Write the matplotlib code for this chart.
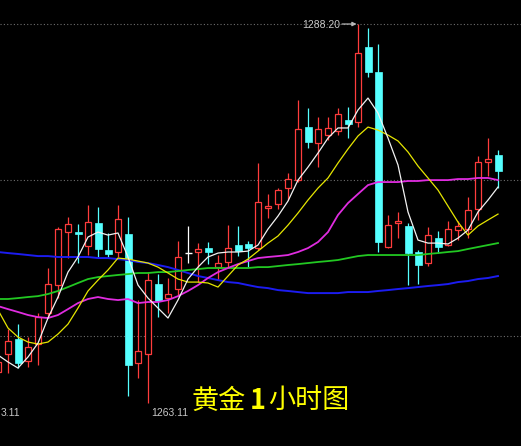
import numpy as np
import matplotlib
matplotlib.use("Agg")
import matplotlib.pyplot as plt
from matplotlib.patches import Rectangle

plt.rcParams['font.family'] = ['Noto Sans CJK SC', 'DejaVu Sans']

# Gold, 1-hour bars (bar -1 is the partially visible one at the left edge)
bars = np.arange(-1, 50)

opens = [1265.16, 1266.35, 1267.35, 1265.89, 1267.02, 1269.07, 1270.92, 1274.43, 1274.43, 1273.50,
         1275.03, 1273.24, 1273.11, 1274.30, 1265.76, 1266.35, 1270.99, 1270.06, 1270.66, 1273.04,
         1273.11, 1273.37, 1272.11, 1272.45, 1273.57, 1273.64, 1273.37, 1276.02, 1276.29, 1277.34,
         1277.87, 1281.38, 1280.32, 1280.85, 1281.12, 1281.85, 1281.71, 1286.68, 1285.02, 1273.44,
         1275.03, 1274.83, 1273.11, 1272.38, 1274.03, 1273.57, 1274.56, 1274.63, 1275.95, 1279.07,
         1279.53]
highs = [1266.22, 1268.01, 1268.34, 1267.48, 1269.07, 1272.05, 1274.76, 1275.42, 1274.96, 1276.22,
         1276.09, 1274.37, 1276.22, 1275.42, 1269.93, 1271.78, 1271.65, 1271.39, 1273.84, 1274.83,
         1273.70, 1273.77, 1272.91, 1274.89, 1274.83, 1273.84, 1279.00, 1276.95, 1277.34, 1278.34,
         1283.17, 1282.64, 1282.04, 1282.04, 1282.64, 1282.71, 1288.20, 1287.94, 1286.88, 1275.56,
         1275.76, 1275.03, 1273.24, 1274.76, 1274.50, 1275.16, 1275.16, 1276.75, 1279.46, 1280.65,
         1279.86]
lows = [1264.77, 1265.10, 1265.43, 1265.49, 1265.63, 1268.74, 1270.06, 1272.71, 1272.38, 1272.91,
        1272.78, 1272.78, 1272.78, 1263.57, 1264.77, 1263.11, 1268.80, 1269.07, 1270.19, 1272.38,
        1271.12, 1272.31, 1271.25, 1272.11, 1272.84, 1272.11, 1273.24, 1275.36, 1275.95, 1276.55,
        1277.74, 1279.99, 1278.73, 1280.52, 1280.85, 1280.65, 1281.38, 1284.69, 1273.11, 1273.37,
        1274.03, 1270.92, 1270.99, 1272.18, 1273.04, 1273.50, 1273.90, 1274.03, 1275.23, 1278.14,
        1277.34]
closes = [1265.83, 1267.22, 1265.76, 1266.82, 1268.80, 1270.99, 1274.63, 1274.96, 1274.30, 1275.09,
          1273.31, 1272.98, 1275.29, 1265.63, 1266.55, 1271.25, 1269.86, 1270.33, 1272.78, 1273.04,
          1273.31, 1273.11, 1272.38, 1273.37, 1273.17, 1273.37, 1276.42, 1276.15, 1277.21, 1277.94,
          1281.25, 1280.39, 1281.25, 1281.32, 1282.24, 1281.58, 1286.28, 1285.02, 1273.77, 1274.89,
          1275.16, 1273.04, 1272.25, 1274.23, 1273.44, 1274.63, 1274.83, 1275.89, 1279.07, 1279.26,
          1278.47]

# Moving averages
ma5 = [1266.29, 1265.83, 1265.43, 1266.16, 1267.08, 1268.74, 1270.13, 1271.78, 1272.78, 1274.10,
       1274.43, 1274.23, 1274.37, 1272.78, 1270.92, 1270.06, 1269.40, 1268.74, 1269.93, 1271.32,
       1272.11, 1272.78, 1273.04, 1273.11, 1273.11, 1273.17, 1273.57, 1274.63, 1275.49, 1276.48,
       1277.87, 1278.73, 1279.66, 1280.65, 1281.32, 1281.32, 1282.51, 1283.30, 1282.31, 1280.65,
       1278.87, 1275.76, 1273.90, 1273.70, 1273.70, 1273.64, 1274.03, 1274.56, 1275.76, 1276.55,
       1277.41]
ma10 = [1269.27, 1268.08, 1267.48, 1267.15, 1267.02, 1267.15, 1267.68, 1268.34, 1269.40, 1270.53,
        1271.25, 1271.92, 1272.71, 1272.64, 1272.51, 1272.38, 1272.11, 1271.72, 1271.32, 1271.12,
        1271.12, 1271.06, 1270.79, 1271.52, 1272.25, 1272.64, 1273.17, 1273.70, 1274.17, 1274.89,
        1275.69, 1276.55, 1277.34, 1278.01, 1279.00, 1279.93, 1280.79, 1281.38, 1281.18, 1280.85,
        1280.46, 1279.73, 1278.80, 1278.01, 1277.21, 1276.15, 1275.09, 1274.23, 1274.83, 1275.23,
        1275.62]
ma20 = [1269.53, 1269.33, 1269.14, 1268.94, 1268.80, 1268.74, 1268.94, 1269.33, 1269.73, 1270.00,
        1270.13, 1270.00, 1269.93, 1270.00, 1269.73, 1269.80, 1269.80, 1269.93, 1270.19, 1270.53,
        1270.92, 1271.39, 1271.78, 1272.05, 1272.31, 1272.51, 1272.71, 1272.78, 1272.84, 1272.91,
        1273.11, 1273.37, 1273.77, 1274.43, 1275.56, 1276.35, 1276.95, 1277.54, 1277.74, 1277.74,
        1277.74, 1277.81, 1277.81, 1277.87, 1277.87, 1277.87, 1277.94, 1277.94, 1278.01, 1278.01,
        1277.87]
ma40 = [1270.00, 1270.00, 1270.06, 1270.13, 1270.19, 1270.33, 1270.53, 1270.79, 1271.06, 1271.32,
        1271.45, 1271.52, 1271.59, 1271.65, 1271.72, 1271.72, 1271.78, 1271.78, 1271.85, 1271.92,
        1271.98, 1272.05, 1272.05, 1272.05, 1272.05, 1272.05, 1272.11, 1272.11, 1272.18, 1272.25,
        1272.31, 1272.38, 1272.45, 1272.51, 1272.58, 1272.71, 1272.84, 1272.91, 1272.91, 1272.91,
        1272.91, 1272.91, 1272.91, 1272.98, 1273.04, 1273.11, 1273.17, 1273.31, 1273.44, 1273.57,
        1273.70]
ma60 = [1273.11, 1273.04, 1272.98, 1272.91, 1272.84, 1272.84, 1272.78, 1272.78, 1272.78, 1272.78,
        1272.71, 1272.71, 1272.64, 1272.58, 1272.45, 1272.38, 1272.25, 1272.11, 1271.92, 1271.72,
        1271.52, 1271.39, 1271.25, 1271.12, 1271.06, 1270.92, 1270.79, 1270.72, 1270.59, 1270.53,
        1270.46, 1270.39, 1270.39, 1270.39, 1270.39, 1270.46, 1270.46, 1270.46, 1270.53, 1270.59,
        1270.66, 1270.72, 1270.79, 1270.86, 1270.92, 1270.99, 1271.12, 1271.19, 1271.32, 1271.39,
        1271.52]

grid_levels = [1288.20, 1277.87, 1267.53]
high_label = "1288.20"
low_label = "1263.11"
edge_label = "3.11"
title_parts = ["黄金", "1", "小时图"]

UP = "#ff3c3c"
DOWN = "#55ffff"
DOJI = "#ffffff"

W, H = 521, 446
fig = plt.figure(figsize=(W / 100, H / 100), dpi=100, facecolor="black")
ax = fig.add_axes([0, 0, 1, 1])
ax.set_facecolor("black")
ax.set_xlim(-0.8, 51.3)
ax.set_ylim(1260.27, 1289.79)
ax.axis("off")

for lvl in grid_levels:
    ax.axhline(lvl, color="#6e6e6e", lw=0.8, ls=(0, (1, 2)), zorder=1)

for x, o, h, l, c in zip(bars, opens, highs, lows, closes):
    top, bot = max(o, c), min(o, c)
    if c > o:
        ax.vlines(x, top, h, color=UP, lw=0.9, zorder=2)
        ax.vlines(x, l, bot, color=UP, lw=0.9, zorder=2)
        ax.add_patch(Rectangle((x - 0.3, bot), 0.6, top - bot, facecolor="black",
                               edgecolor=UP, lw=0.9, zorder=3))
    elif c < o:
        ax.vlines(x, l, h, color=DOWN, lw=0.9, zorder=2)
        ax.add_patch(Rectangle((x - 0.35, bot), 0.7, top - bot, facecolor=DOWN,
                               edgecolor=DOWN, lw=0.5, zorder=3))
    else:
        ax.vlines(x, l, h, color=DOJI, lw=0.9, zorder=2)
        ax.hlines(o, x - 0.35, x + 0.35, color=DOJI, lw=1.0, zorder=3)

ax.plot(bars, ma60, color="#1c1cf0", lw=1.4, zorder=4)
ax.plot(bars, ma40, color="#22c822", lw=1.3, zorder=4)
ax.plot(bars, ma20, color="#e02ce0", lw=1.3, zorder=4)
ax.plot(bars, ma10, color="#e6e600", lw=0.9, zorder=5)
ax.plot(bars, ma5, color="#f2f2f2", lw=0.9, zorder=6)

# Highest / lowest price markers
hi_i = int(np.argmax(highs))
lo_i = int(np.argmin(lows))
label_font = ["Liberation Sans", "DejaVu Sans"]
ax.annotate(high_label, xy=(bars[hi_i], highs[hi_i]), xytext=(-18, -1),
            textcoords="offset pixels", ha="right", va="center", color="#c8c8c8",
            fontsize=7.5, family=label_font, zorder=7)
ax.annotate("", xy=(bars[hi_i], highs[hi_i]), xytext=(-16, 0), textcoords="offset pixels",
            xycoords="data",
            arrowprops=dict(arrowstyle="-|>", color="#b8b8b8", lw=0.9, mutation_scale=6,
                            shrinkA=0, shrinkB=1), zorder=7)
ax.annotate(low_label, xy=(bars[lo_i], lows[lo_i]), xytext=(3, -10),
            textcoords="offset pixels", ha="left", va="center", color="#c8c8c8",
            fontsize=7.5, family=label_font, zorder=7)
ax.text(0.5 / W, 1 - 413 / H, edge_label, transform=ax.transAxes, ha="left", va="center",
        color="#c8c8c8", fontsize=7.5, family=label_font)

# Title
ty = 1 - 401 / H
ax.text(192 / W, ty, title_parts[0], transform=ax.transAxes, ha="left", va="center",
        color="#ffff00", fontsize=19.5)
ax.text(250 / W, ty, title_parts[1], transform=ax.transAxes, ha="left", va="center",
        color="#ffff00", fontsize=19.5, fontweight="bold")
ax.text(268 / W, ty, title_parts[2], transform=ax.transAxes, ha="left", va="center",
        color="#ffff00", fontsize=19.5)

fig.savefig("out.png", dpi=100, facecolor="black")
